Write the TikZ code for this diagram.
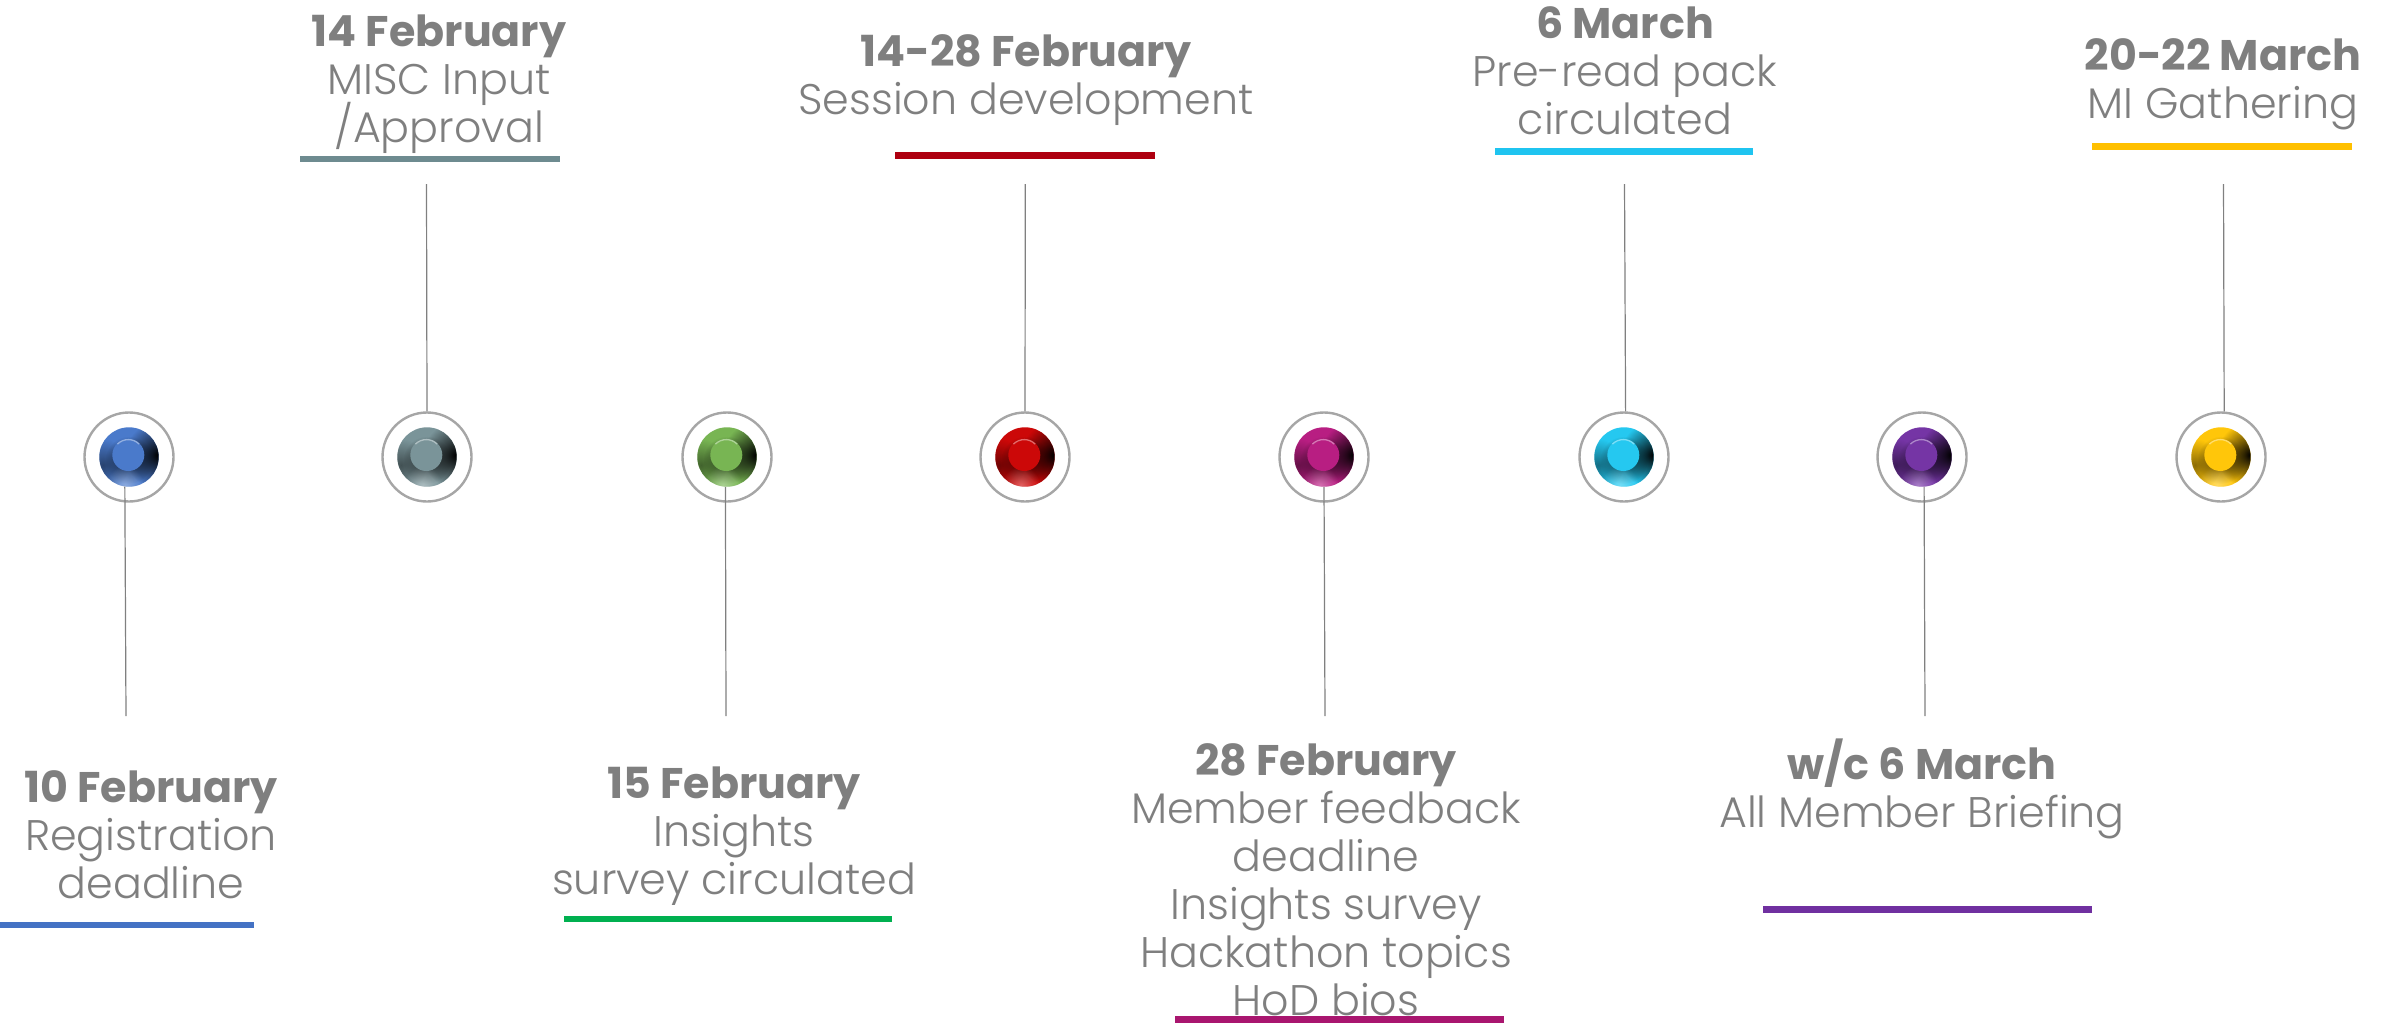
\documentclass[tikz,border=0pt]{standalone}
\usepackage{fontspec}
\setmainfont{Poppins Light}[BoldFont=Poppins Bold]
\usetikzlibrary{fadings}
\definecolor{tgray}{HTML}{7F7F7F}
\definecolor{cblue}{HTML}{4472C4}
\definecolor{cslate}{HTML}{6E8B90}
\definecolor{cgreenr}{HTML}{00B050}
\definecolor{credr}{HTML}{AE0010}
\definecolor{cmag}{HTML}{A9166F}
\definecolor{ccyan}{HTML}{1FC4F0}
\definecolor{cpurp}{HTML}{7030A0}
\definecolor{cgold}{HTML}{FFC000}
\definecolor{dblue}{HTML}{4A7ACB}
\definecolor{dslate}{HTML}{7A9499}
\definecolor{dgreen}{HTML}{78B553}
\definecolor{dred}{HTML}{CC0808}
\definecolor{dmag}{HTML}{B81E82}
\definecolor{dcyan}{HTML}{25C8F0}
\definecolor{dpurp}{HTML}{7535A5}
\definecolor{dgold}{HTML}{FFC60A}
\tikzfading[name=tlspot, inner color=transparent!0, outer color=transparent!100]
\tikzfading[name=tlside, inner color=transparent!55, outer color=transparent!100]
\tikzfading[name=tlhalo, inner color=transparent!35, outer color=transparent!100]
\tikzfading[name=tlshine, inner color=transparent!65, outer color=transparent!100]
\newcommand{\tlfont}{\fontsize{42.8}{48}\selectfont}
\tikzset{
  x=1pt,y=1pt,
  ringnode/.style={circle,draw=black!35,line width=2.4pt,minimum size=89pt,inner sep=0pt,fill=white},
  bowlnode/.style={circle,minimum size=59.4pt,inner sep=0pt},
  capnode/.style={circle,minimum size=32pt,inner sep=0pt},
  stemline/.style={draw=black!50,line width=1.2pt},
  rulebar/.style={line width=6.2pt},
  lab/.style={anchor=north,inner sep=0pt,align=center,text=tgray,font=\tlfont},
}
\lineskiplimit=-100pt
\newcommand{\tldot}[3]{%
  \node[ringnode] (#1) at (#2,-457) {};
  \node[bowlnode,fill=#3] (#1i) at (#1) {};
  \begin{scope}
    \clip (#1) circle (29.7);
    \fill[black,path fading=tlside] ([xshift=-26pt,yshift=-8pt]#1) circle (26);
    \fill[black,path fading=tlhalo] ([yshift=-3pt]#1) circle (24);
    \fill[white,path fading=tlshine] ([xshift=-4pt,yshift=-28pt]#1) circle (19);
    \fill[black,path fading=tlspot] ([xshift=29pt,yshift=2pt]#1) circle (33);
  \end{scope}
  \node[capnode,fill=#3] (#1c) at ([xshift=-0.7pt,yshift=2pt]#1) {};
  \draw[#3!60!white,line width=1.3pt] ([xshift=-0.7pt,yshift=2pt]#1) ++(45:15.4) arc (45:135:15.4);
}
\newcommand{\tllab}[5]{\node[lab] (#1) at (#2,-#3+35) {\rule{0pt}{35pt}\textbf{#4}\\#5};}
\begin{document}
\begin{tikzpicture}
\useasboundingbox (0,0) rectangle (2384,-1023);
% dots
\tldot{d1}{129}{dblue}
\tldot{d2}{427}{dslate}
\tldot{d3}{727}{dgreen}
\tldot{d4}{1025}{dred}
\tldot{d5}{1324}{dmag}
\tldot{d6}{1624}{dcyan}
\tldot{d7}{1922}{dpurp}
\tldot{d8}{2221}{dgold}
% free ends of stems
\coordinate (e1) at (126,-716);
\coordinate (e2) at (426.5,-184);
\coordinate (e3) at (726,-716);
\coordinate (e4) at (1025.3,-184);
\coordinate (e5) at (1325,-716);
\coordinate (e6) at (1624.5,-184);
\coordinate (e7) at (1925,-716);
\coordinate (e8) at (2223.5,-184);
\draw[stemline] (e1) -- (d1i.-98);
\draw[stemline] (e2) -- (d2.north);
\draw[stemline] (e3) -- (d3i.-93);
\draw[stemline] (e4) -- (d4.north);
\draw[stemline] (e5) -- (d5i.-90);
\draw[stemline] (e6) -- (d6.88);
\draw[stemline] (e7) -- (d7i.-86);
\draw[stemline] (e8) -- (d8.86);
% rules
\draw[rulebar,cblue] (0,-925) -- (254,-925);
\draw[rulebar,cslate] (300,-159) -- (560,-159);
\draw[rulebar,cgreenr] (564,-919) -- (892,-919);
\draw[rulebar,credr] (895,-155.5) -- (1155,-155.5);
\draw[rulebar,cmag] (1175,-1019.5) -- (1504,-1019.5);
\draw[rulebar,ccyan] (1495,-151.5) -- (1753,-151.5);
\draw[rulebar,cpurp] (1763,-909.5) -- (2092,-909.5);
\draw[rulebar,cgold] (2092,-146.5) -- (2352,-146.5);
% labels
\tllab{t1}{151}{802}{10 February}{Registration\\deadline}
\tllab{t2}{439}{46}{14 February}{MISC Input\\/Approval}
\tllab{t3}{734}{798}{15 February}{Insights\\survey circulated}
\tllab{t4}{1026}{66}{14-28 February}{Session development}
\tllab{t5}{1326}{775}{28 February}{Member feedback\\deadline\\Insights survey\\Hackathon topics\\HoD bios}
\tllab{t6}{1625}{38}{6 March}{Pre-read pack\\circulated}
\tllab{t7}{1922}{774}{w/c 6 March}{All Member Briefing}
\tllab{t8}{2223}{70}{20-22 March}{MI Gathering}
\end{tikzpicture}
\end{document}
